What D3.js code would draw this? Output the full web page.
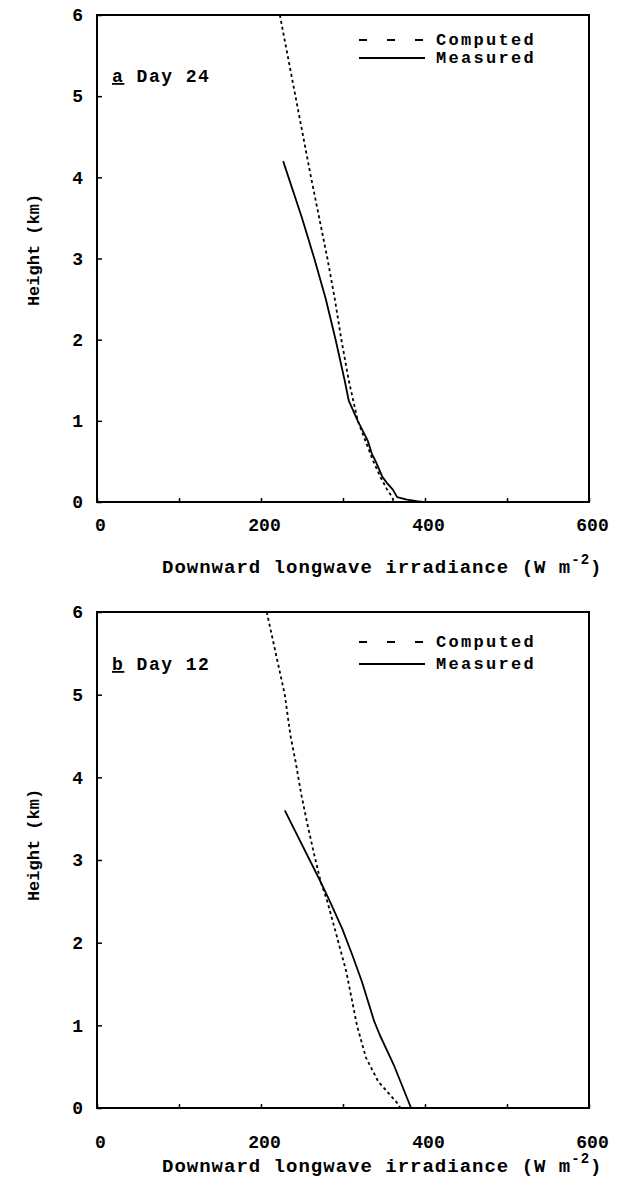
<!DOCTYPE html>
<html lang="en">
<head>
<meta charset="utf-8">
<style>
    body { margin: 0; background: #fff; }
    svg text {
        font-family: "Liberation Mono", monospace;
        font-weight: bold;
        fill: #000;
    }
    .frame { fill: none; stroke: #000; stroke-width: 2; }
    .curve { fill: none; stroke: #000; stroke-width: 1.8; stroke-linejoin: round; }
    .dashed { stroke-dasharray: 3,3; }
</style>
</head>
<body>
<svg id="mainSVG" width="620" height="1183"></svg>
<script src="https://cdn.jsdelivr.net/npm/d3@7"></script>
<script>

    // ticks
    var xTickValues = [0, 100, 200, 300, 400, 500, 600];
    var xTickLabels = { 0: "0", 200: "200", 400: "400", 600: "600" };
    var yTickValues = [0, 1, 2, 3, 4, 5, 6];
    var legendLabels = ["Computed", "Measured"];

    // [irradiance W m-2, height km]
    var day24Computed = [[223, 6.0], [242, 5.0], [261, 4.0], [281, 3.0], [290, 2.5], [298, 2.0],
        [307, 1.5], [318, 1.0], [337, 0.5], [346, 0.3], [354, 0.15], [360, 0.06], [362, 0]];
    var day24Measured = [[227, 4.2], [250, 3.5], [265, 3.0], [279, 2.5], [291, 2.0], [302, 1.5],
        [307, 1.25], [318, 1.0], [330, 0.76], [335, 0.6], [339, 0.52], [342, 0.45], [348, 0.31],
        [354, 0.23], [361, 0.15], [366, 0.06], [378, 0.03], [390, 0.01], [398, 0]];

    var day12Computed = [[207, 6.0], [218, 5.5], [229, 5.0], [236, 4.5], [242, 4.2], [249, 3.8],
        [256, 3.46], [265, 3.06], [273, 2.73], [280, 2.53], [291, 2.13], [304, 1.65], [317, 1.0],
        [328, 0.61], [343, 0.32], [367, 0.05], [370, 0]];
    var day12Measured = [[229, 3.6], [236, 3.46], [271, 2.77], [283, 2.52], [299, 2.17], [311, 1.86],
        [323, 1.53], [338, 1.05], [345, 0.88], [362, 0.52], [383, 0]];

    var svg = d3.select("#mainSVG");

    var x = d3.scaleLinear().domain([0, 600]).range([97, 589]);

    function drawPanel(p) {
        var y = d3.scaleLinear().domain([0, 6]).range([p.bottom, p.top]);
        var g = svg.append("g");

        var xAxis = g.append("g")
            .attr("transform", "translate(0," + y(0) + ")")
            .call(d3.axisBottom(x)
                .tickValues(xTickValues)
                .tickSizeInner(-4)
                .tickSizeOuter(0)
                .tickPadding(p.xPad)
                .tickFormat(function (d) { return xTickLabels[d] || ""; }));
        xAxis.select(".domain").remove();
        xAxis.selectAll("line").attr("stroke-width", 1.5);
        xAxis.selectAll("text").style("font-size", "18px").attr("dx", 3);

        var yAxis = g.append("g")
            .attr("transform", "translate(" + x(0) + ",0)")
            .call(d3.axisLeft(y)
                .tickValues(yTickValues)
                .tickFormat(d3.format("d"))
                .tickSizeInner(-5)
                .tickSizeOuter(0)
                .tickPadding(14));
        yAxis.select(".domain").remove();
        yAxis.selectAll("line").attr("stroke-width", 1.5);
        yAxis.selectAll("text").style("font-size", "18px");

        g.append("rect")
            .attr("class", "frame")
            .attr("x", x(0))
            .attr("y", y(6))
            .attr("width", x(600) - x(0))
            .attr("height", y(0) - y(6));

        var line = d3.line()
            .x(function (d) { return x(d[0]); })
            .y(function (d) { return y(d[1]); });

        g.append("path").datum(p.computed)
            .attr("class", "curve dashed")
            .attr("d", line);
        g.append("path").datum(p.measured)
            .attr("class", "curve")
            .attr("d", line);

        // legend
        g.append("line")
            .attr("x1", 359).attr("x2", 425)
            .attr("y1", p.top + p.legY[0]).attr("y2", p.top + p.legY[0])
            .attr("stroke", "#000").attr("stroke-width", 1.8)
            .attr("stroke-dasharray", "8,20");
        g.append("line")
            .attr("x1", 359).attr("x2", 425)
            .attr("y1", p.top + p.legY[1]).attr("y2", p.top + p.legY[1])
            .attr("stroke", "#000").attr("stroke-width", 1.8);
        g.selectAll(".leg")
            .data(legendLabels)
            .enter().append("text")
            .attr("x", 436)
            .attr("y", function (d, i) { return p.top + p.legY[i] + 5; })
            .style("font-size", "17px")
            .style("letter-spacing", "2.3px")
            .text(function (d) { return d; });

        // panel label
        var lab = g.append("text")
            .attr("x", 112)
            .attr("y", p.top + p.labY + 6)
            .style("font-size", "18px")
            .style("letter-spacing", "1.5px");
        lab.append("tspan").attr("text-decoration", "underline").text(p.letter);
        lab.append("tspan").text(" " + p.day);

        // axis titles
        g.append("text")
            .attr("transform", "translate(39," + p.yTitle + ") rotate(-90)")
            .attr("text-anchor", "middle")
            .style("font-size", "17px")
            .text("Height (km)");

        var t = g.append("text")
            .attr("x", 162)
            .attr("y", p.xTitle)
            .style("font-size", "19px")
            .style("letter-spacing", "1px");
        t.append("tspan").text("Downward longwave irradiance (W m");
        t.append("tspan").attr("dy", -9).style("font-size", "14px").text("-2");
        t.append("tspan").attr("dy", 9).text(")");
    }

    drawPanel({
        top: 15, bottom: 502, xPad: 16, legY: [25, 43], labY: 61,
        letter: "a", day: "Day 24", yTitle: 250, xTitle: 573,
        computed: day24Computed, measured: day24Measured
    });

    drawPanel({
        top: 612, bottom: 1108, xPad: 27, legY: [30, 52], labY: 52,
        letter: "b", day: "Day 12", yTitle: 845, xTitle: 1172,
        computed: day12Computed, measured: day12Measured
    });

</script>
</body>
</html>
